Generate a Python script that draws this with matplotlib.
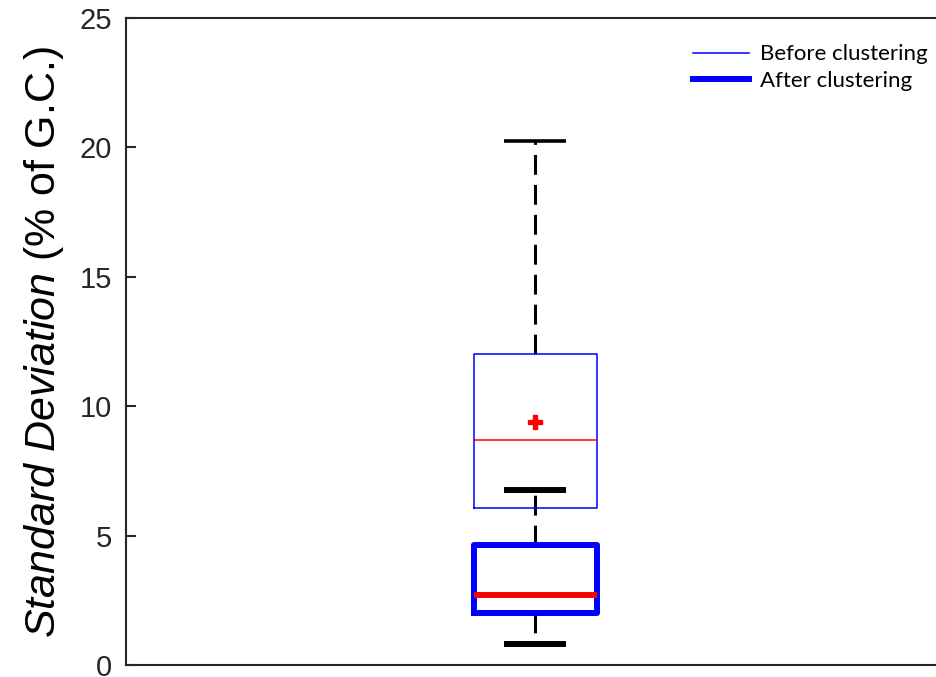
"""
Spread of standard deviation (% of G.C.) before and after clustering.
"""

import matplotlib
matplotlib.use("Agg")
import matplotlib.pyplot as plt
from matplotlib.lines import Line2D

plt.rcParams['font.family'] = ['Liberation Sans', 'DejaVu Sans']
plt.rcParams['mathtext.fontset'] = 'custom'
plt.rcParams['mathtext.rm'] = 'Liberation Sans'
plt.rcParams['mathtext.it'] = 'Liberation Sans:italic'

# Box summary values (whisker low, Q1, median, Q3, whisker high, mean)
series = ['Before clustering', 'After clustering']
whislo = [6.07, 0.81]
q1 = [6.07, 2.00]
med = [8.69, 2.70]
q3 = [12.02, 4.64]
whishi = [20.25, 6.76]
means = [9.39, None]

yticks = [0, 5, 10, 15, 20, 25]

BLUE = '#0000ff'
RED = '#ff0000'
DASH = (0, (6.5, 3.3))

fig = plt.figure(figsize=(9.36, 6.77), dpi=100)
ax = fig.add_axes([0.1346, 0.0177, 0.875, 0.9557])

box_lw = [1.1, 4.3]
cap_lw = [2.6, 4.3]
med_lw = [1.1, 4.3]

for i in range(2):
    stats = [{
        'whislo': whislo[i], 'q1': q1[i], 'med': med[i], 'q3': q3[i],
        'whishi': whishi[i], 'fliers': [], 'label': series[i],
    }]
    if means[i] is not None:
        stats[0]['mean'] = means[i]
    art = ax.bxp(
        stats, positions=[1], widths=0.151, showfliers=False,
        showmeans=means[i] is not None, manage_ticks=False,
        boxprops=dict(color=BLUE, linewidth=box_lw[i]),
        medianprops=dict(color=RED, linewidth=med_lw[i], solid_capstyle='butt'),
        whiskerprops=dict(color='black', linewidth=2.2, linestyle=DASH),
        capprops=dict(color='black', linewidth=cap_lw[i], solid_capstyle='butt'),
        capwidths=0.0757,
        meanprops=dict(marker='P', markerfacecolor=RED, markeredgecolor=RED,
                       markersize=10),
    )
    for b in art['boxes']:
        b.set_zorder(3 + i)
    for m in art['medians']:
        m.set_zorder(4 + i)
    if i == 0:
        # no lower whisker for the first set
        art['caps'][0].set_visible(False)
        art['whiskers'][0].set_visible(False)

ax.set_xlim(0.5, 1.5)
ax.set_ylim(0, 25)
ax.set_xticks([])
ax.set_yticks(yticks)
ax.tick_params(axis='y', direction='in', length=7, width=1.5, color='#262626',
               labelsize=21, labelcolor='#262626', pad=10)
for side in ['left', 'bottom', 'top', 'right']:
    ax.spines[side].set_linewidth(1.5)
    ax.spines[side].set_color('#262626')

ax.set_ylabel(r'$\mathit{Standard\ Deviation}$ (% of G.C.)', fontsize=31,
              labelpad=9.5)

handles = [Line2D([], [], color=BLUE, linewidth=box_lw[0]),
           Line2D([], [], color=BLUE, linewidth=box_lw[1])]
ax.legend(handles, series, loc='upper right', frameon=False,
          bbox_to_anchor=(1.003, 0.99), handlelength=2.5, handletextpad=0.5,
          labelspacing=0.3, prop={'family': 'Lato', 'size': 16})

fig.savefig('out.png', dpi=100)
